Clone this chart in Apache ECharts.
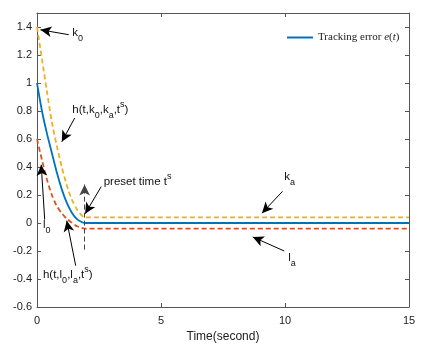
<!DOCTYPE html>
<html>
<head>
<meta charset="utf-8">
<script src="https://cdn.jsdelivr.net/npm/echarts@6/dist/echarts.min.js"></script>
<style>
    html, body { margin: 0; padding: 0; background: #fff; }
    #chart { width: 423px; height: 349px; }
</style>
</head>
<body>
<div id="chart"></div>
<script>
// 时间采样点 (s)
var times = [0, 0.2, 0.4, 0.6, 0.8, 1.0, 1.2, 1.4, 1.6, 1.8, 1.92, 15];
// 跟踪误差 e(t)
var errorVals = [1, 0.80, 0.64, 0.50, 0.36, 0.24, 0.145, 0.075, 0.03, 0.007, 0, 0];
// 上界 h(t,k0,ka,ts)
var upperVals = [1.4, 1.17, 0.94, 0.72, 0.55, 0.40, 0.27, 0.17, 0.10, 0.055, 0.04, 0.04];
// 下界 h(t,l0,la,ts)
var lowerVals = [0.6, 0.45, 0.31, 0.20, 0.12, 0.07, 0.03, 0.003, -0.022, -0.035, -0.04, -0.04];
var xTicks = [0, 5, 10, 15];

// 注释箭头 [尾t, 尾v, 头t, 头v]
var arrows = [
    [1.28, 1.345, 0.14, 1.38],
    [1.52, 0.75, 1.0, 0.58],
    [0.31, 0.024, 0.17, 0.416],
    [1.56, -0.305, 1.2, 0.016],
    [2.59, 0.26, 1.94, 0.066],
    [9.9, 0.226, 9.07, 0.07],
    [9.97, -0.2, 8.7, -0.1]
];
// 预设时间竖线
var presetLine = [1.92, -0.19, 1.92, 0.275];

// 注释文字 [t, v, 片段]
var notes = [
    [1.425, 1.36, [['k', 'n'], ['0', 'sub']]],
    [1.425, 0.81, [['h(t,k', 'n'], ['0', 'sub'], [',k', 'n'], ['a', 'sub'], [',t', 'n'], ['s', 'sup'], [')', 'n']]],
    [0.24, -0.012, [['l', 'n'], ['0', 'sub']]],
    [0.24, -0.37, [['h(t,l', 'n'], ['0', 'sub'], [',l', 'n'], ['a', 'sub'], [',t', 'n'], ['s', 'sup'], [')', 'n']]],
    [2.69, 0.295, [['preset time t', 'n'], ['s', 'sup']]],
    [9.97, 0.333, [['k', 'n'], ['a', 'sub']]],
    [10.13, -0.248, [['l', 'n'], ['a', 'sub']]]
];

function pairs(vals) {
    return times.map(function (t, i) { return [t, vals[i]]; });
}

var arrowLines = arrows.map(function (a) {
    return [{ coord: [a[0], a[1]], symbol: 'none' }, { coord: [a[2], a[3]], symbol: 'arrow' }];
});
arrowLines.push([
    { coord: [presetLine[0], presetLine[1]], symbol: 'none' },
    { coord: [presetLine[2], presetLine[3]], symbol: 'arrow', lineStyle: { type: [5, 3], color: '#444' } }
]);

var axisColor = '#555';
var font = 'Liberation Sans, Arial, sans-serif';

var chart = echarts.init(document.getElementById('chart'));
chart.setOption({
    animation: false,
    backgroundColor: '#fff',
    grid: { left: 37, right: 14, top: 13, bottom: 42, containLabel: false },
    legend: {
        data: [{ name: 'Tracking error e(t)', icon: 'path://M0,0L26,0L26,2L0,2Z' }],
        left: 282, top: 27,
        itemWidth: 26, itemHeight: 2, itemGap: 4,
        formatter: function () { return '{a|Tracking error }{i|e}{a|(}{i|t}{a|)}'; },
        textStyle: {
            rich: {
                a: { fontFamily: 'Liberation Serif, serif', fontSize: 11, color: '#222' },
                i: { fontFamily: 'Liberation Serif, serif', fontSize: 11, fontStyle: 'italic', color: '#222' }
            }
        }
    },
    xAxis: [{
        type: 'value', min: 0, max: 15, interval: 5,
        name: 'Time(second)', nameLocation: 'middle', nameGap: 23,
        nameTextStyle: { fontFamily: font, fontSize: 12, color: '#222' },
        axisLine: { onZero: false, lineStyle: { color: axisColor } },
        axisTick: { inside: true, length: 4, lineStyle: { color: axisColor } },
        axisLabel: { fontFamily: font, fontSize: 11, color: '#222', margin: 8,
            formatter: function (v) { return xTicks.indexOf(v) >= 0 ? String(v) : ''; } },
        splitLine: { show: false }
    }, {
        type: 'value', min: 0, max: 15, interval: 5, position: 'top',
        axisLine: { onZero: false, lineStyle: { color: axisColor } },
        axisTick: { inside: true, length: 4, lineStyle: { color: axisColor } },
        axisLabel: { show: false }, splitLine: { show: false }
    }],
    yAxis: [{
        type: 'value', min: -0.6, max: 1.5, interval: 0.2,
        axisLine: { show: true, onZero: false, lineStyle: { color: axisColor } },
        axisTick: { show: true, inside: true, length: 4, lineStyle: { color: axisColor } },
        axisLabel: { fontFamily: font, fontSize: 11, color: '#222', margin: 5,
            formatter: function (v) { return v > 1.45 ? '' : String(+v.toFixed(2)); } },
        splitLine: { show: false }
    }, {
        type: 'value', min: -0.6, max: 1.5, interval: 0.2, position: 'right',
        axisLine: { show: true, onZero: false, lineStyle: { color: axisColor } },
        axisTick: { show: true, inside: true, length: 4, lineStyle: { color: axisColor } },
        axisLabel: { show: false }, splitLine: { show: false }
    }],
    series: [{
        name: 'k', type: 'line', symbol: 'none', data: pairs(upperVals), smooth: 0.25,
        lineStyle: { color: '#EDB120', width: 1.8, type: [5, 3] }, z: 2
    }, {
        name: 'l', type: 'line', symbol: 'none', data: pairs(lowerVals), smooth: 0.25,
        lineStyle: { color: '#D95319', width: 1.8, type: [5, 3] }, z: 2
    }, {
        name: 'Tracking error e(t)', type: 'line', symbol: 'none', data: pairs(errorVals), smooth: 0.25,
        color: '#0072BD',
        lineStyle: { color: '#0072BD', width: 1.8 }, z: 3,
        markLine: {
            silent: true, animation: false,
            symbolSize: [8, 11],
            label: { show: false },
            lineStyle: { color: '#000', width: 1, type: 'solid' },
            data: arrowLines
        }
    }]
});

// 注释文字：按数据坐标放置，下标/上标分段
var ctx = document.createElement('canvas').getContext('2d');
function measure(txt, size) {
    ctx.font = size + 'px ' + font;
    return ctx.measureText(txt).width;
}
var graphics = [];
notes.forEach(function (n) {
    var p = chart.convertToPixel({ gridIndex: 0 }, [n[0], n[1]]);
    var x = p[0];
    n[2].forEach(function (part) {
        var size = part[1] === 'n' ? 11.5 : 9;
        var dy = part[1] === 'sub' ? 6 : (part[1] === 'sup' ? -5 : 0);
        graphics.push({
            type: 'text', x: x, y: p[1] + dy, silent: true,
            style: { text: part[0], font: size + 'px ' + font, fill: '#111', verticalAlign: 'middle', align: 'left' }
        });
        x += measure(part[0], size);
    });
});
chart.setOption({ graphic: graphics });
</script>
</body>
</html>
